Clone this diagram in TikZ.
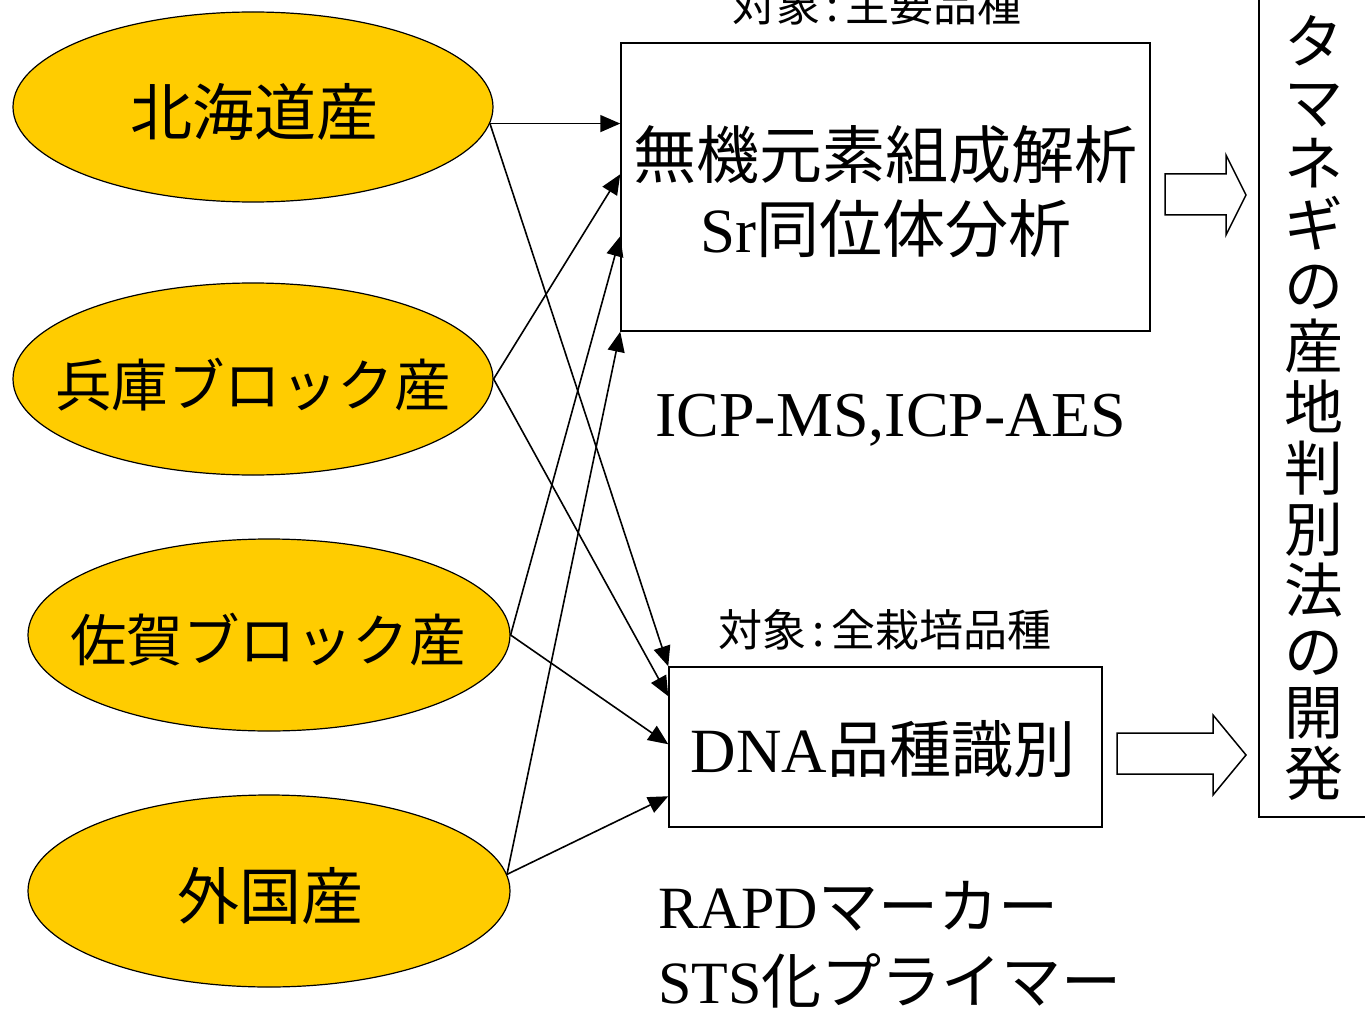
\documentclass[tikz,border=0pt]{standalone}
\usepackage{fontspec}
\setmainfont{Liberation Serif}
\newfontfamily\jp{Noto Sans CJK JP}
\usetikzlibrary{arrows.meta,shapes.geometric}
\definecolor{gold}{HTML}{FFCC00}
\begin{document}
\begin{tikzpicture}[x=1pt,y=-1pt,
  ell/.style={ellipse, draw=black, line width=1.2pt, fill=gold, inner sep=0pt},
  box/.style={draw=black, line width=1.5pt, inner sep=0pt},
  conn/.style={-{Triangle[length=20pt,width=17pt]}, line width=1.6pt},
  blk/.style={draw=black, line width=1.5pt, fill=white, line join=miter},
  jbig/.style={font=\jp\fontsize{62}{74}\selectfont, inner sep=0pt},
  jbox/.style={font=\jp\fontsize{63}{74}\selectfont, inner sep=0pt},
  jmid/.style={font=\jp\fontsize{56.5}{68}\selectfont, inner sep=0pt},
  jsmall/.style={font=\jp\fontsize{44}{52}\selectfont, inner sep=0pt},
  ltxt/.style={font=\fontsize{64}{74}\selectfont, inner sep=0pt}
]
\useasboundingbox (0,0) rectangle (1365,1011);
\clip (0,0) rectangle (1365,1011);

% source ellipses
\node[ell, minimum width=480pt, minimum height=190pt] (e1) at (253,107) {};
\node[ell, minimum width=480pt, minimum height=192pt] (e2) at (253,379) {};
\node[ell, minimum width=482pt, minimum height=192pt] (e3) at (269,635) {};
\node[ell, minimum width=482pt, minimum height=192pt] (e4) at (269,891) {};
\node[jbig] (t1) at (254,112) {北海道産};
\node[jmid] (t2) at (253,385) {兵庫ブロック産};
\node[jmid] (t3) at (268,640) {佐賀ブロック産};
\node[jbig] (t4) at (270,896) {外国産};

% analysis boxes
\node[box, minimum width=529pt, minimum height=288pt] (b1) at (885.5,187) {};
\node[box, minimum width=433pt, minimum height=160pt] (b2) at (885.5,747) {};
\node[jbox] (m1) at (885,155) {無機元素組成解析};
\node[jbox] (m2) at (886,229) {{\rmfamily Sr}同位体分析};
\node[jsmall] (lab1) at (877,5) {対象\kern0.15em:\kern0.15em主要品種};
\node[jsmall] (lab2) at (885,630) {対象\kern0.15em:\kern0.15em全栽培品種};
\node[ltxt, anchor=base] (icp) at (891,436) {ICP-MS,ICP-AES};
\node[jbig, anchor=base] (d1) at (883,772) {{\rmfamily\fontsize{63}{74}\selectfont DNA}品種識別};
\node[font=\jp\fontsize{60}{72}\selectfont, inner sep=0pt, anchor=base west] (r1) at (658,928) {{\rmfamily RAPD}マーカー};
\node[font=\jp\fontsize{60}{72}\selectfont, inner sep=0pt, anchor=base west] (r2) at (658,1003) {{\rmfamily STS}化プライマー};

% result box
\node[box, minimum width=131pt, minimum height=837pt] (rb) at (1324.5,398.5) {};
\node[font=\jp\fontsize{59}{61}\selectfont, inner sep=0pt, align=center] (vt) at (1314,408)
  {タ\\マ\\ネ\\ギ\\の\\産\\地\\判\\別\\法\\の\\開\\発};

% block arrows
\draw[blk] (1165,174) -- (1226,174) -- (1226,155) -- (1246,195) -- (1226,235) -- (1226,215) -- (1165,215) -- cycle;
\draw[blk] (1117,733) -- (1213,733) -- (1213,715) -- (1246,755) -- (1213,795) -- (1213,774) -- (1117,774) -- cycle;

% connectors
\draw[conn] (e1.-4) -- (e1.-4 -| b1.west);
\draw[conn] (e1.-4) -- (b2.north west);
\draw[conn] (e2.east) -- ([yshift=-132pt]b1.north west);
\draw[conn] (e2.east) -- ([yshift=-30pt]b2.north west);
\draw[conn] (e3.east) -- ([yshift=-194pt]b1.north west);
\draw[conn] (e3.east) -- ([yshift=-78pt]b2.north west);
\draw[conn] (e4.4) -- (b1.south west);
\draw[conn] (e4.4) -- ([yshift=-130pt]b2.north west);
\end{tikzpicture}
\end{document}
